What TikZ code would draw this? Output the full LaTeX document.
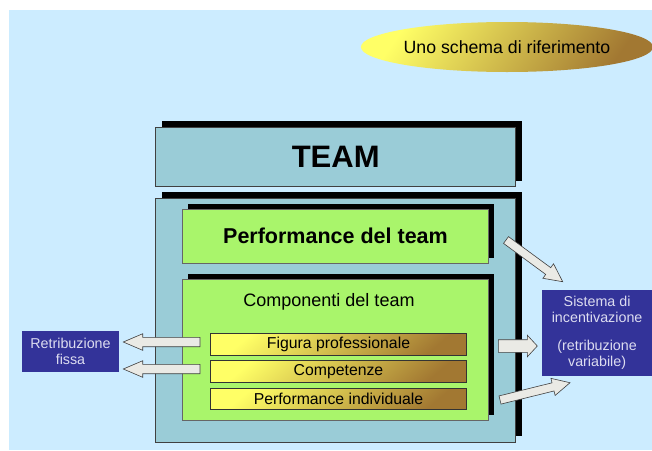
\documentclass[tikz,border=0pt]{standalone}
\usepackage{fontspec}
\setmainfont{Liberation Sans}
\usetikzlibrary{shapes.geometric,shadows,calc}
\definecolor{bgblue}{HTML}{CCECFF}
\definecolor{teal}{HTML}{9ACCD7}
\definecolor{lgreen}{HTML}{A9F56B}
\definecolor{dblue}{HTML}{333399}
\definecolor{btext}{HTML}{DCDCF0}
\definecolor{afill}{HTML}{EAEAE5}
\definecolor{ayellow}{HTML}{FFFF66}
\definecolor{abrown}{HTML}{A27832}
\newcommand\blockarrow[6]{%
  \coordinate (#1h) at ($(#3)!#6!(#2)$);
  \draw[barrow] ($(#2)!#4!90:(#3)$) -- ($(#1h)!#4!-90:(#2)$) -- ($(#1h)!#5!-90:(#2)$) -- (#3) -- ($(#1h)!#5!90:(#2)$) -- ($(#1h)!#4!90:(#2)$) -- ($(#2)!#4!-90:(#3)$) -- cycle;}
\begin{document}
\begin{tikzpicture}[x=1pt,y=-1pt,
  box/.style={rectangle, inner sep=0pt, outer sep=0pt, anchor=north west},
  shad/.style={drop shadow={fill=black, opacity=1, shadow xshift=#1pt, shadow yshift=#1pt}},
  tealbox/.style={box, fill=teal, draw=black!75, line width=0.6pt, shad=6},
  greenbox/.style={box, fill=lgreen, draw=black!60, line width=0.6pt, shad=5.3},
  bar/.style={box, draw=black!80, line width=0.6pt, top color=ayellow, bottom color=abrown, shading angle=40,
    minimum width=256.4pt, minimum height=21.7pt, font=\fontsize{15.8}{18}\selectfont},
  bluebox/.style={rectangle, fill=dblue, inner sep=0pt, text=btext, align=center,
    font=\fontsize{14.3}{15.6}\selectfont},
  barrow/.style={fill=afill, draw=black!75, line width=0.6pt, line join=miter}]
\useasboundingbox (0,0) rectangle (652,450);
\fill[bgblue] (9,10) rectangle (652,450);

% ellipse title
\node[ellipse, inner sep=0pt, minimum width=274pt, minimum height=50pt,
  top color=ayellow, bottom color=abrown, shading angle=55,
  font=\fontsize{17.7}{20}\selectfont] (title) at (507,47) {Uno schema di riferimento};

% TEAM
\node[tealbox, minimum width=360pt, minimum height=59.4pt,
  font=\fontsize{31}{34}\bfseries] (team) at (155.7,127.3) {TEAM};

% big box
\node[tealbox, minimum width=360pt, minimum height=243.7pt] (big) at (155.7,198.3) {};

% performance del team
\node[greenbox, minimum width=305.6pt, minimum height=54.3pt,
  font=\fontsize{21.5}{24}\bfseries] (perf) at (182.7,209) {Performance del team};

% componenti
\node[greenbox, minimum width=305.6pt, minimum height=141.4pt] (comp) at (182.7,279.3) {};
\node[anchor=base, inner sep=0pt, font=\fontsize{18}{20}\selectfont] (complabel) at (329,306.7) {Componenti del team};

% bars
\node[bar] (fig) at (210.3,333.3) {Figura professionale};
\node[bar] (cmp) at (210.3,360.7) {Competenze};
\node[bar] (pin) at (210.3,388) {Performance individuale};

% blue boxes
\node[bluebox, minimum width=97.6pt, minimum height=41pt] (retr) at (70.5,351.2) {Retribuzione\\fissa};
\node[bluebox, minimum width=109.7pt, minimum height=85.7pt] (sis) at (597.1,332.8)
  {Sistema di\\incentivazione\\[12.5pt](retribuzione\\variabile)};

% arrows
\coordinate (la1t) at (200,342);
\coordinate (la1p) at (123.3,342);
\coordinate (la2t) at (200,369);
\coordinate (la2p) at (123.3,369);
\coordinate (rat) at (498.3,346);
\coordinate (rap) at (537.3,346);
\coordinate (uat) at (506,240);
\coordinate (uap) at (562.7,281.7);
\coordinate (dat) at (500,400);
\coordinate (dap) at (570,382.7);
\blockarrow{la1}{la1t}{la1p}{4.7pt}{8.3pt}{19.4pt}
\blockarrow{la2}{la2t}{la2p}{4.7pt}{8.3pt}{19.4pt}
\blockarrow{ra}{rat}{rap}{6.3pt}{10.8pt}{10pt}
\blockarrow{ua}{uat}{uap}{4.2pt}{9pt}{18pt}
\blockarrow{da}{dat}{dap}{4.2pt}{8.8pt}{17.5pt}
\end{tikzpicture}
\end{document}
